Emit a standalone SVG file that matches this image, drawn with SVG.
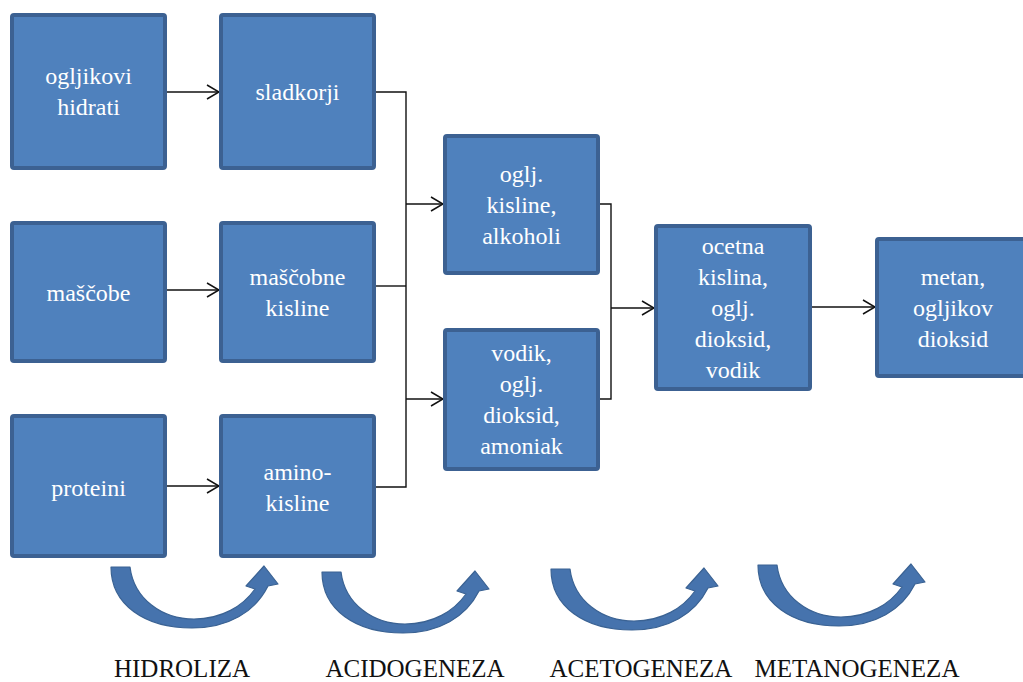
<svg xmlns="http://www.w3.org/2000/svg" width="1023" height="682" viewBox="0 0 1023 682">
<defs>
<style>
.box{fill:#4F81BD;stroke:#3C6192;stroke-width:4}
.nt{font-family:"Liberation Serif","Times New Roman",serif;font-size:24px;fill:#FFFFFF;text-anchor:middle}
.lab{font-family:"Liberation Serif","Times New Roman",serif;font-size:25px;fill:#111111;text-anchor:middle}
.c{fill:none;stroke:#111111;stroke-width:1.4}
.ca{fill:#4673AD;stroke:#3A6293;stroke-width:1.2;stroke-linejoin:round}
</style>
<marker id="ah" markerWidth="14" markerHeight="16" refX="13" refY="8" orient="auto" markerUnits="userSpaceOnUse">
<path d="M1,1 L13,8 L1,15" fill="none" stroke="#111111" stroke-width="1.5"/>
</marker>
<path id="curve" d="M111,567 L130,567 C134,599 162,619 194,619 C222,619 243,606 255,589 L246,586 L264,566 L278,584 L268,586 C255,612 228,628 192,628 C145,628 111,605 111,567 Z"/>
</defs>
<rect width="1023" height="682" fill="#FFFFFF"/>

<g id="connectors">
<line class="c" x1="167" y1="92" x2="219" y2="92" marker-end="url(#ah)"/>
<line class="c" x1="167" y1="290" x2="219" y2="290" marker-end="url(#ah)"/>
<line class="c" x1="167" y1="486" x2="219" y2="486" marker-end="url(#ah)"/>
<polyline class="c" points="376,92 406,92 406,487 376,487"/>
<line class="c" x1="376" y1="286" x2="406" y2="286"/>
<line class="c" x1="406" y1="204" x2="443" y2="204" marker-end="url(#ah)"/>
<line class="c" x1="406" y1="399" x2="443" y2="399" marker-end="url(#ah)"/>
<polyline class="c" points="600,204 611,204 611,399 600,399"/>
<line class="c" x1="611" y1="308" x2="654" y2="308" marker-end="url(#ah)"/>
<line class="c" x1="812" y1="307" x2="875" y2="307" marker-end="url(#ah)"/>
</g>

<g id="nodes">
<g id="n-ogljikovi">
<rect class="box" x="12" y="15" width="153" height="153" rx="2"/>
<text class="nt" x="88.5" y="84">ogljikovi</text>
<text class="nt" x="88.5" y="115">hidrati</text>
</g>
<g id="n-sladkorji">
<rect class="box" x="221" y="15" width="153" height="153" rx="2"/>
<text class="nt" x="297.5" y="100">sladkorji</text>
</g>
<g id="n-mascobe">
<rect class="box" x="12" y="223" width="153" height="138" rx="2"/>
<text class="nt" x="88.5" y="301">maščobe</text>
</g>
<g id="n-mascobne">
<rect class="box" x="221" y="223" width="153" height="138" rx="2"/>
<text class="nt" x="297.5" y="285">maščobne</text>
<text class="nt" x="297.5" y="316">kisline</text>
</g>
<g id="n-proteini">
<rect class="box" x="12" y="416" width="153" height="140" rx="2"/>
<text class="nt" x="88.5" y="496">proteini</text>
</g>
<g id="n-amino">
<rect class="box" x="221" y="416" width="153" height="140" rx="2"/>
<text class="nt" x="297.5" y="480">amino-</text>
<text class="nt" x="297.5" y="511">kisline</text>
</g>
<g id="n-oglj-kisline">
<rect class="box" x="445" y="136" width="153" height="137" rx="2"/>
<text class="nt" x="521.5" y="182">oglj.</text>
<text class="nt" x="521.5" y="213">kisline,</text>
<text class="nt" x="521.5" y="244">alkoholi</text>
</g>
<g id="n-vodik">
<rect class="box" x="445" y="330" width="153" height="139" rx="2"/>
<text class="nt" x="521.5" y="361">vodik,</text>
<text class="nt" x="521.5" y="392">oglj.</text>
<text class="nt" x="521.5" y="423">dioksid,</text>
<text class="nt" x="521.5" y="454">amoniak</text>
</g>
<g id="n-ocetna">
<rect class="box" x="656" y="226" width="154" height="163" rx="2"/>
<text class="nt" x="733" y="254">ocetna</text>
<text class="nt" x="733" y="285">kislina,</text>
<text class="nt" x="733" y="316">oglj.</text>
<text class="nt" x="733" y="347">dioksid,</text>
<text class="nt" x="733" y="378">vodik</text>
</g>
<g id="n-metan">
<rect class="box" x="877" y="239" width="153" height="137" rx="2"/>
<text class="nt" x="953" y="285">metan,</text>
<text class="nt" x="953" y="316">ogljikov</text>
<text class="nt" x="953" y="347">dioksid</text>
</g>
</g>

<g id="phases">
<use href="#curve" class="ca"/>
<use href="#curve" class="ca" transform="translate(211,5)"/>
<use href="#curve" class="ca" transform="translate(440,2)"/>
<use href="#curve" class="ca" transform="translate(647,-2)"/>
<text class="lab" x="182" y="677">HIDROLIZA</text>
<text class="lab" x="415" y="677">ACIDOGENEZA</text>
<text class="lab" x="641" y="677">ACETOGENEZA</text>
<text class="lab" x="857" y="677">METANOGENEZA</text>
</g>
</svg>
